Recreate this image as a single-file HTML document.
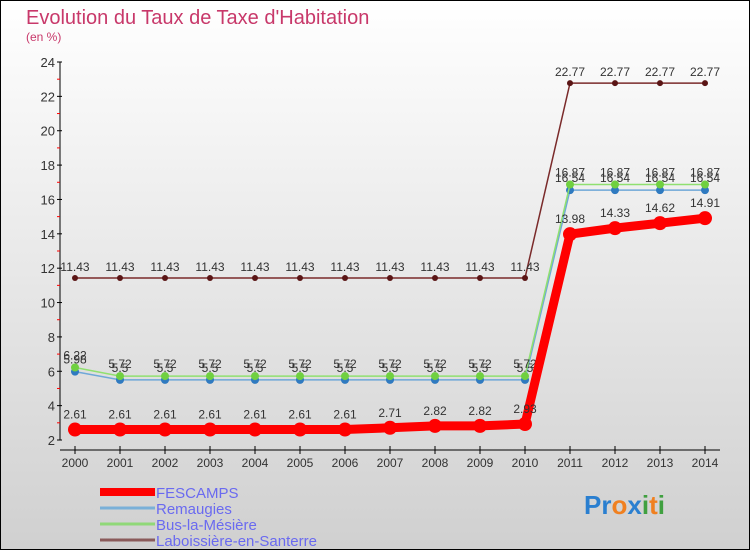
<!DOCTYPE html>
<html><head><meta charset="utf-8"><style>
html,body{margin:0;padding:0}
body{width:750px;height:550px;overflow:hidden;font-family:"Liberation Sans",sans-serif}
#wrap{position:relative;width:748px;height:548px;border:1px solid #000;background:linear-gradient(#ffffff,#d0d0d0)}
</style></head><body>
<div id="wrap">
<svg id="chart" width="748" height="548" viewBox="1 1 748 548">
<text x="26" y="24" font-size="20" fill="#c8386a">Evolution du Taux de Taxe d'Habitation</text>
<text x="26" y="41" font-size="12" fill="#c8386a">(en %)</text>
<g id="axes"></g>
<g id="series"></g>
<g id="legend"></g>
<text x="584" y="514" font-size="26" font-weight="bold"><tspan fill="#2a7fd0">Pr</tspan><tspan fill="#f08020">o</tspan><tspan fill="#2a7fd0">x</tspan><tspan fill="#40a040">i</tspan><tspan fill="#f08020">t</tspan><tspan fill="#40a040">i</tspan></text>
</svg>
</div>
<script>
const years=[2000,2001,2002,2003,2004,2005,2006,2007,2008,2009,2010,2011,2012,2013,2014];
const yTicks=[2,4,6,8,10,12,14,16,18,20,22,24];
const fescamps=[2.61,2.61,2.61,2.61,2.61,2.61,2.61,2.71,2.82,2.82,2.93,13.98,14.33,14.62,14.91];
const remaugies=[5.98,5.5,5.5,5.5,5.5,5.5,5.5,5.5,5.5,5.5,5.5,16.54,16.54,16.54,16.54];
const bus=[6.22,5.72,5.72,5.72,5.72,5.72,5.72,5.72,5.72,5.72,5.72,16.87,16.87,16.87,16.87];
const laboissiere=[11.43,11.43,11.43,11.43,11.43,11.43,11.43,11.43,11.43,11.43,11.43,22.77,22.77,22.77,22.77];
const seriesNames=["FESCAMPS","Remaugies","Bus-la-Mésière","Laboissière-en-Santerre"];

const NS="http://www.w3.org/2000/svg";
const X=i=>75+i*45;
const Y=v=>440-(v-2)*(378/22);
function mk(tag,attrs,parent){const e=document.createElementNS(NS,tag);for(const k in attrs)e.setAttribute(k,attrs[k]);parent.appendChild(e);return e;}
const axes=document.getElementById('axes');
const ser=document.getElementById('series');
const leg=document.getElementById('legend');

let yl=mk('line',{x1:60,y1:Y(24),x2:60,y2:Y(2),stroke:'#000'},axes);


let xl=mk('line',{x1:60,y1:450,x2:720,y2:450,stroke:'#000'},axes);


yTicks.forEach((v,k)=>{
  mk('line',{x1:57,y1:Y(v),x2:62,y2:Y(v),stroke:'#000'},axes);
  if(k<yTicks.length-1) mk('line',{x1:57,y1:Y(v+1),x2:60,y2:Y(v+1),stroke:'#f00'},axes);
  const t=mk('text',{x:55,y:Y(v)+5,'font-size':13,fill:'#333','text-anchor':'end'},axes);
  t.textContent=v;
  
  
});
years.forEach((yr,i)=>{
  mk('line',{x1:X(i),y1:446,x2:X(i),y2:454,stroke:'#000'},axes);
  const t=mk('text',{x:X(i),y:467,'font-size':12,fill:'#333','text-anchor':'middle'},axes);
  t.textContent=yr;
  
  
});

function draw(data,color,ptColor,w,r,name){
  const g=mk('g',{},ser);
  
  
  mk('polyline',{points:data.map((v,i)=>X(i)+','+Y(v)).join(' '),fill:'none',stroke:color,'stroke-width':w},g);
  data.forEach((v,i)=>{
    const c=mk('circle',{cx:X(i),cy:Y(v),r:r,fill:ptColor},g);
    
    
    const t=mk('text',{x:X(i),y:Y(v)-r-4,'font-size':12,fill:'#333','text-anchor':'middle'},g);
    t.textContent=String(v);
    
    
  });
}
draw(laboissiere,'#7a2a2a','#5a1515',1.5,3,'series-laboissiere');
draw(remaugies,'#6fa8d8','#2f7ac0',1.5,4,'series-remaugies');
draw(bus,'#90e070','#70d040',1.5,4,'series-bus');
draw(fescamps,'#f00','#f00',9,7,'series-fescamps');

const legColors=['#f00','#7ab0d8','#90d878','#8a5a5a'];
const legW=[8,3,3,3];
seriesNames.forEach((n,i)=>{
  const y=492+i*16;
  const l=mk('line',{x1:100,y1:y,x2:155,y2:y,stroke:legColors[i],'stroke-width':legW[i]},leg);
  
  
  const t=mk('text',{x:156,y:y+6,'font-size':15,fill:'#6a6af0'},leg);
  t.textContent=n;
  
  
});
</script>
</body></html>
